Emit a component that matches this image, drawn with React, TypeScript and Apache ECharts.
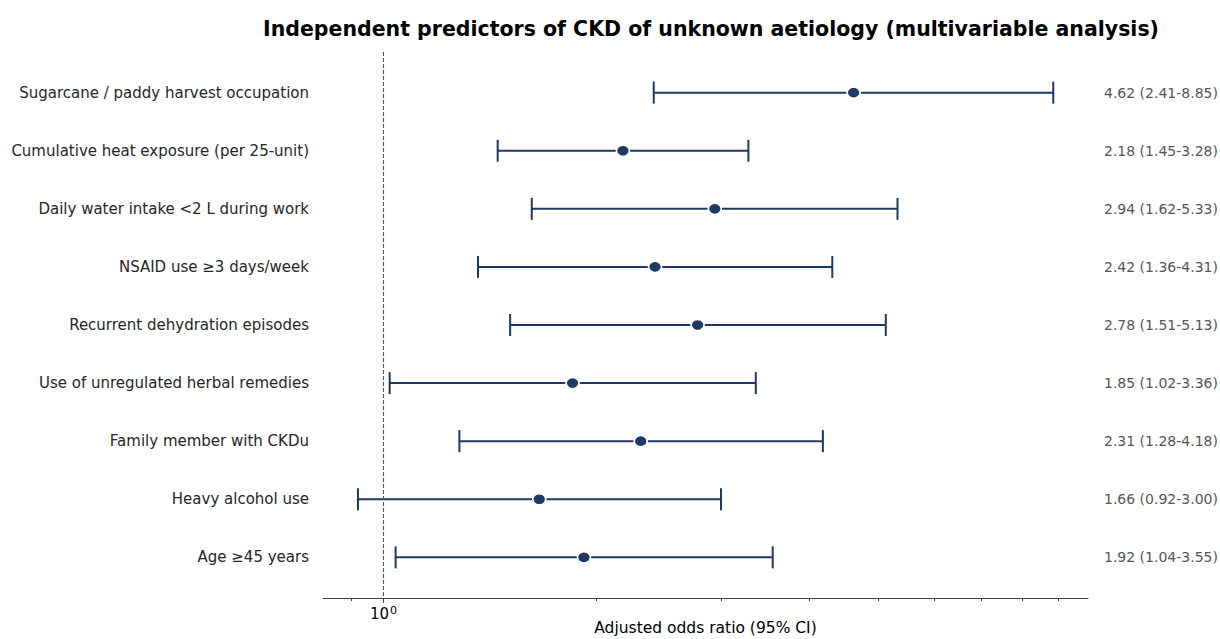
import React, { useEffect, useRef } from "react";
import * as echarts from "echarts";

const categories = [
  "Sugarcane / paddy harvest occupation",
  "Cumulative heat exposure (per 25-unit)",
  "Daily water intake <2 L during work",
  "NSAID use ≥3 days/week",
  "Recurrent dehydration episodes",
  "Use of unregulated herbal remedies",
  "Family member with CKDu",
  "Heavy alcohol use",
  "Age ≥45 years",
];
const oddsRatios = [4.62, 2.18, 2.94, 2.42, 2.78, 1.85, 2.31, 1.66, 1.92];
const lowerCI = [2.41, 1.45, 1.62, 1.36, 1.51, 1.02, 1.28, 0.92, 1.04];
const upperCI = [8.85, 3.28, 5.33, 4.31, 5.13, 3.36, 4.18, 3.0, 3.55];
const minorTicks = [0.9, 2, 3, 4, 5, 6, 7, 8, 9];
const majorTicks = [1];

const NAVY = "#1f3864";
const FONT = "DejaVu Sans";

export default function App() {
  const ref = useRef<HTMLDivElement>(null);
  useEffect(() => {
    document.body.style.margin = "0";
    const chart = echarts.init(ref.current!, null, { renderer: "svg" });
    const idx = categories.map((_, i) => i);
    const annotations = categories.map(
      (_, i) =>
        `${oddsRatios[i].toFixed(2)} (${lowerCI[i].toFixed(2)}-${upperCI[i].toFixed(2)})`
    );
    const xMin = 0.821;
    const xMax = 9.91;
    const yBase = {
      type: "value",
      min: -0.7,
      max: 8.7,
      inverse: true,
      axisLine: { show: false, onZero: false },
      axisTick: { show: false },
      splitLine: { show: false },
    };
    chart.setOption({
      animation: false,
      title: {
        text: "Independent predictors of CKD of unknown aetiology (multivariable analysis)",
        left: 706,
        textAlign: "center",
        top: 13,
        textStyle: { fontFamily: FONT, fontSize: 20.5, fontWeight: "bold", color: "#000" },
      },
      grid: { left: 323, right: 132, top: 52, bottom: 41, outerBoundsMode: "none", containLabel: false },
      xAxis: [
        {
          type: "log",
          logBase: 10,
          min: xMin,
          max: xMax,
          position: "bottom",
          name: "Adjusted odds ratio (95% CI)",
          nameLocation: "middle",
          nameGap: 22,
          nameTextStyle: { fontFamily: FONT, fontSize: 15.5, color: "#000" },
          axisLine: { show: true, onZero: false, lineStyle: { color: "#444", width: 1 } },
          axisTick: { show: true, customValues: minorTicks, length: 3, lineStyle: { color: "#444" } },
          axisLabel: { show: false },
          splitLine: { show: false },
        },
        {
          type: "log",
          logBase: 10,
          min: xMin,
          max: xMax,
          position: "bottom",
          axisLine: { show: false, onZero: false },
          axisTick: { show: true, customValues: majorTicks, length: 5, lineStyle: { color: "#444" } },
          axisLabel: {
            show: true,
            customValues: majorTicks,
            margin: 7,
            color: "#000",
            formatter: (v: number) => (Math.abs(v - 1) < 1e-9 ? "{a|10}{b|0}" : ""),
            rich: {
              a: { fontFamily: FONT, fontSize: 15, color: "#000" },
              b: { fontFamily: FONT, fontSize: 11, color: "#000", verticalAlign: "top", padding: [0, 0, 6, 1] },
            },
          },
          splitLine: { show: false },
        },
      ],
      yAxis: [
        {
          ...yBase,
          position: "left",
          axisLabel: {
            customValues: idx,
            margin: 14,
            fontFamily: FONT,
            fontSize: 15,
            color: "#262626",
            formatter: (v: number) => categories[Math.round(v)] ?? "",
          },
        },
        {
          ...yBase,
          position: "right",
          axisLabel: {
            customValues: idx,
            margin: 16,
            fontFamily: FONT,
            fontSize: 14,
            color: "#555",
            formatter: (v: number) => annotations[Math.round(v)] ?? "",
          },
        },
      ],
      series: [
        {
          type: "custom",
          xAxisIndex: 0,
          yAxisIndex: 0,
          data: idx.map((i) => [i, lowerCI[i], upperCI[i]]),
          encode: { x: [1, 2], y: 0 },
          renderItem: (params: any, api: any) => {
            const y = api.value(0);
            const p1 = api.coord([api.value(1), y]);
            const p2 = api.coord([api.value(2), y]);
            const h = 11;
            const style = { stroke: NAVY, lineWidth: 2, fill: "none" };
            return {
              type: "group",
              children: [
                { type: "line", shape: { x1: p1[0], y1: p1[1], x2: p2[0], y2: p2[1] }, style },
                { type: "line", shape: { x1: p1[0], y1: p1[1] - h, x2: p1[0], y2: p1[1] + h }, style },
                { type: "line", shape: { x1: p2[0], y1: p2[1] - h, x2: p2[0], y2: p2[1] + h }, style },
              ],
            };
          },
          z: 2,
        },
        {
          type: "scatter",
          xAxisIndex: 0,
          yAxisIndex: 0,
          data: idx.map((i) => [oddsRatios[i], i]),
          symbol: "circle",
          symbolSize: [13, 11],
          itemStyle: { color: NAVY, borderColor: "#fff", borderWidth: 1.5, opacity: 1 },
          z: 3,
          markLine: {
            silent: true,
            symbol: "none",
            label: { show: false },
            lineStyle: { color: "#555", type: [4, 2], width: 1.1 },
            data: [{ xAxis: 1 }],
          },
        },
      ],
    });
    return () => chart.dispose();
  }, []);
  return (
    <div
      ref={ref}
      style={{ position: "absolute", left: 0, top: 0, width: 1220, height: 639, background: "#fff" }}
    />
  );
}
